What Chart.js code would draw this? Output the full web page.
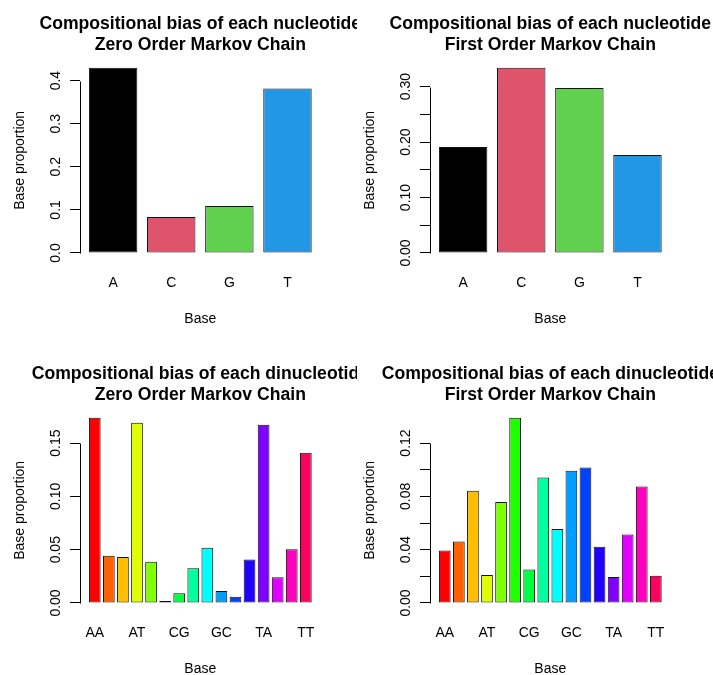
<!DOCTYPE html>
<html>
<head>
<meta charset="utf-8">
<script src="https://cdn.jsdelivr.net/npm/chart.js@4.4.0/dist/chart.umd.min.js"></script>
<style>
  body { margin: 0; background: #fff; }
  #wrap { position: relative; width: 713px; height: 675px; overflow: hidden; background: #fff; }
  canvas { position: absolute; }
</style>
</head>
<body>
<div id="wrap">
  <canvas id="c1" width="357" height="350" style="left:0;top:0"></canvas>
  <canvas id="c2" width="363" height="350" style="left:350px;top:0"></canvas>
  <canvas id="c3" width="357" height="325" style="left:0;top:350px"></canvas>
  <canvas id="c4" width="363" height="325" style="left:350px;top:350px"></canvas>
</div>
<script>
// --- data ---
var bases = ["A", "C", "G", "T"];
var dinucs = ["AA", "AC", "AG", "AT", "CA", "CC", "CG", "CT",
              "GA", "GC", "GG", "GT", "TA", "TC", "TG", "TT"];

var nucZero = [0.430, 0.0836, 0.109, 0.382];
var nucFirst = [0.191, 0.334, 0.2976, 0.1765];
var dinucZero = [0.1738, 0.0442, 0.0432, 0.169, 0.0388, 0.0019, 0.0091, 0.0326,
                 0.0517, 0.0113, 0.0059, 0.0407, 0.1672, 0.0241, 0.0504, 0.1409];
var dinucFirst = [0.0393, 0.0461, 0.0842, 0.0210, 0.0757, 0.139, 0.0251, 0.0942,
                  0.0556, 0.0992, 0.1017, 0.0421, 0.0195, 0.0514, 0.0874, 0.0205];

var yTicksNucZero = [0, 0.1, 0.2, 0.3, 0.4];
var yLabelsNucZero = ["0.0", "0.1", "0.2", "0.3", "0.4"];
var yTicksNucFirst = [0, 0.05, 0.10, 0.15, 0.20, 0.25, 0.30];
var yLabelsNucFirst = ["0.00", "", "0.10", "", "0.20", "", "0.30"];
var yTicksDiZero = [0, 0.05, 0.10, 0.15];
var yLabelsDiZero = ["0.00", "0.05", "0.10", "0.15"];
var yTicksDiFirst = [0, 0.02, 0.04, 0.06, 0.08, 0.10, 0.12];
var yLabelsDiFirst = ["0.00", "", "0.04", "", "0.08", "", "0.12"];

// R palette() and rainbow(16)
var palette4 = ["#000000", "#DF536B", "#61D04F", "#2297E6"];
var rainbow16 = ["#FF0000", "#FF6000", "#FFBF00", "#DFFF00", "#80FF00", "#20FF00",
                 "#00FF40", "#00FF9F", "#00FFFF", "#009FFF", "#0040FF", "#2000FF",
                 "#8000FF", "#DF00FF", "#FF00BF", "#FF0060"];

var xTitle = "Base";
var yTitle = "Base proportion";

var font = '"Liberation Sans", Arial, sans-serif';

// draws the R-style bits: partial y axis line, rotated tick labels, titles
var rStyle = {
  id: "rStyle",
  afterDraw: function(chart, args, opts) {
    var ctx = chart.ctx;
    var area = chart.chartArea;
    var y = chart.scales.y;
    var ticks = y.ticks;
    var cx = (area.left + area.right) / 2;
    var ax = Math.round(area.left) + 0.5;

    ctx.save();
    ctx.strokeStyle = "#000";
    ctx.lineWidth = 1;
    ctx.beginPath();
    ctx.moveTo(ax, Math.round(y.getPixelForValue(ticks[0].value)) + 0.5);
    ctx.lineTo(ax, Math.round(y.getPixelForValue(ticks[ticks.length - 1].value)) + 0.5);
    ctx.stroke();

    ctx.fillStyle = "#000";
    ctx.textAlign = "center";
    ctx.textBaseline = "alphabetic";
    ctx.font = "14px " + font;
    ticks.forEach(function(t, i) {
      var label = opts.yLabels[i];
      if (!label) return;
      ctx.save();
      ctx.translate(area.left - 20, y.getPixelForValue(t.value));
      ctx.rotate(-Math.PI / 2);
      ctx.fillText(label, 0, 0);
      ctx.restore();
    });

    ctx.save();
    ctx.translate(area.left - 56, (area.top + area.bottom) / 2);
    ctx.rotate(-Math.PI / 2);
    ctx.fillText(yTitle, 0, 0);
    ctx.restore();

    ctx.fillText(xTitle, cx, area.bottom + 63);

    ctx.font = "bold 17.6px " + font;
    ctx.fillText(opts.title[0], cx, 28.5);
    ctx.fillText(opts.title[1], cx, 50);
    ctx.restore();
  }
};

function makeBarplot(id, labels, values, colors, yTicks, yLabels, title, every) {
  var canvas = document.getElementById(id);
  var n = values.length;
  // barplot geometry: width 1, space 0.2, axis range padded by 4%
  var centers = labels.map(function(l, i) { return 0.7 + 1.2 * i; });
  var span = 1.2 * n - 0.2;
  var top = Math.max.apply(null, values);
  var xAxisHeight = 40;

  return new Chart(canvas, {
    type: "bar",
    data: {
      datasets: [{
        data: values.map(function(v, i) { return { x: centers[i], y: v }; }),
        backgroundColor: colors,
        borderColor: "#111",
        borderWidth: 1,
        borderSkipped: false,
        categoryPercentage: 1,
        barPercentage: 1 / 1.2
      }]
    },
    options: {
      responsive: false,
      animation: false,
      layout: {
        padding: {
          left: 80,
          right: canvas.width - 320.6,
          top: 60.3,
          bottom: canvas.height - 260.4 - xAxisHeight
        }
      },
      plugins: {
        legend: { display: false },
        tooltip: { enabled: false },
        rStyle: { title: title, yLabels: yLabels }
      },
      scales: {
        x: {
          type: "linear",
          offset: false,
          min: 0.2 - 0.04 * span,
          max: 1.2 * n + 0.04 * span,
          afterBuildTicks: function(s) {
            s.ticks = centers.map(function(v) { return { value: v }; });
          },
          afterFit: function(s) { s.height = xAxisHeight; },
          grid: { display: false },
          border: { display: false },
          ticks: {
            autoSkip: false,
            maxRotation: 0,
            minRotation: 0,
            padding: 6,
            color: "#000",
            font: { family: font, size: 14 },
            callback: function(v, i) { return i % every === 0 ? labels[i] : ""; }
          }
        },
        y: {
          min: -0.04 * top,
          max: 1.04 * top,
          afterBuildTicks: function(s) {
            s.ticks = yTicks.map(function(v) { return { value: v }; });
          },
          afterFit: function(s) { s.width = 0; },
          grid: { drawOnChartArea: false, tickLength: 10, color: "#000", lineWidth: 1 },
          border: { display: false },
          ticks: { display: false }
        }
      }
    },
    plugins: [rStyle]
  });
}

makeBarplot("c1", bases, nucZero, palette4, yTicksNucZero, yLabelsNucZero,
  ["Compositional bias of each nucleotide", "Zero Order Markov Chain"], 1);
makeBarplot("c2", bases, nucFirst, palette4, yTicksNucFirst, yLabelsNucFirst,
  ["Compositional bias of each nucleotide", "First Order Markov Chain"], 1);
makeBarplot("c3", dinucs, dinucZero, rainbow16, yTicksDiZero, yLabelsDiZero,
  ["Compositional bias of each dinucleotide", "Zero Order Markov Chain"], 3);
makeBarplot("c4", dinucs, dinucFirst, rainbow16, yTicksDiFirst, yLabelsDiFirst,
  ["Compositional bias of each dinucleotide", "First Order Markov Chain"], 3);
</script>
</body>
</html>
